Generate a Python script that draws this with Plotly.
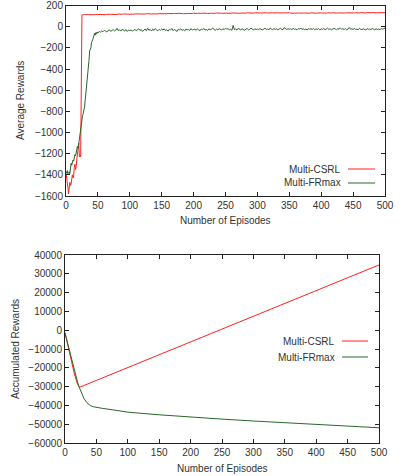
import plotly.graph_objects as go

# ---------------- data ----------------
# Average rewards, episodes 0..50 (every episode)
early_episodes = list(range(0, 51))
csrl_early = [-1380, -1420, -1450, -1520, -1580, -1540, -1470, -1500, -1490, -1440,
              -1400, -1430, -1410, -1330, -1300, -1350, -1320, -1250, -1200, -1150,
              -1100, -1230, -1220, -1230, 110, 112, 114, 111, 113, 115, 112, 114,
              113, 116, 112, 115, 113, 114, 116, 113, 115, 114, 112, 116, 114, 113,
              115, 117, 114, 116, 115]
frmax_early = [-1370, -1380, -1360, -1390, -1380, -1370, -1390, -1330, -1290, -1310,
               -1280, -1260, -1270, -1230, -1210, -1220, -1180, -1160, -1130, -1150,
               -1100, -1060, -1020, -980, -940, -880, -840, -820, -800, -760,
               -700, -640, -600, -540, -480, -400, -320, -230, -210, -200,
               -150, -140, -120, -100, -70, -60, -80, -55, -70, -50, -60]

# Average rewards, episodes 52..500 (every second episode)
late_episodes = list(range(52, 501, 2))
csrl_late = [
    114, 116, 113, 115, 117, 114, 116, 118, 115, 117, 116, 114, 118, 117, 115, 119, 116, 118, 117, 120, 116, 119, 118, 117, 120,
    119, 121, 118, 120, 122, 119, 121, 120, 118, 122, 121, 119, 123, 120, 122, 121, 119, 123, 122, 120, 124, 121, 123, 122, 121,
    123, 121, 124, 122, 125, 123, 121, 124, 123, 125, 122, 124, 126, 123, 125, 124, 122, 126, 124, 125, 123, 126, 125, 124, 127,
    124, 126, 125, 127, 124, 126, 128, 125, 127, 126, 124, 128, 126, 127, 125, 128, 126, 129, 127, 125, 128, 127, 126, 129, 127,
    128, 126, 129, 127, 128, 130, 127, 129, 128, 126, 130, 128, 129, 127, 130, 128, 131, 129, 127, 130, 129, 128, 131, 129, 130,
    128, 130, 129, 131, 128, 130, 132, 129, 131, 130, 128, 131, 130, 132, 129, 131, 130, 128, 132, 130, 131, 129, 132, 130, 131,
    127, 129, 126, 128, 130, 127, 129, 128, 126, 130, 128, 129, 127, 130, 128, 127, 131, 129, 128, 130, 127, 129, 131, 128, 130,
    129, 127, 130, 128, 131, 129, 128, 130, 132, 129, 131, 128, 130, 129, 131, 127, 130, 132, 129, 131, 130, 128, 132, 130, 131,
    130, 132, 129, 131, 130, 133, 131, 129, 132, 130, 133, 131, 130, 132, 134, 131, 133, 130, 132, 131, 134, 132, 131, 133, 132]
frmax_late = [
    -45, -52, -40, -48, -35, -42, -50, -38, -30, -44, -36, -28, -40, -33, -15, -38, -30, -42, -25, -35, -40, -28, -45, -32, -38,
    -30, -42, -35, -25, -40, -32, -20, -36, -28, -45, -30, -22, -38, -15, -33, -27, -40, -24, -35, -18, -30, -38, -26, -34, -22,
    -32, -20, -36, -28, -42, -25, -30, -18, -38, -26, -33, -45, -24, -30, -20, -35, -28, -40, -22, -30, -26, -36, -18, -32, -27,
    -24, -34, -20, -30, -38, -22, -28, -16, -32, -26, -36, -20, -30, -24, -12, -28, -34, -22, -30, -18, -26, -32, -20, -28, -15,
    -22, -20, -30, -24, -34, 12, -28, -22, -32, -16, -26, -30, -20, -28, -35, -22, -18, -30, -26, -14, -24, -32, -20, -27, -23,
    -28, -18, -25, -32, -20, -15, -27, -22, -30, -12, -24, -28, -18, -26, -20, -30, -22, -16, -25, -28, -10, -22, -27, -19, -24,
    -20, -28, -16, -25, -22, -30, -18, -24, -12, -26, -20, -28, -22, -32, -18, -24, -20, -26, -15, -28, -22, -25, -18, -30, -21,
    -25, -18, -28, -22, -14, -26, -20, -30, -24, -16, -22, -28, -19, -25, -12, -24, -20, -27, -18, -30, -22, -8, -24, -20, -26,
    -18, -26, -22, -30, -15, -24, -28, -20, -25, -32, -18, -26, -22, -28, -16, -24, -30, -20, -26, -22, -28, -18, -24, -20, -12]

# Accumulated rewards (read at sample episodes)
acc_csrl_episodes = [0, 5, 10, 15, 20, 23, 50, 100, 150, 200, 250, 300, 350, 400, 450, 500]
acc_csrl = [-1400, -8900, -16200, -23300, -28700, -30400, -26700, -19900, -13100,
            -6300, 500, 7400, 14200, 21000, 27800, 34700]
acc_frmax_episodes = [0, 5, 10, 15, 20, 23, 26, 30, 35, 40, 45, 50, 60, 75, 100,
                      150, 200, 250, 300, 350, 400, 450, 500]
acc_frmax = [-1400, -8300, -15200, -21700, -27600, -30600, -33300, -36200, -38600,
             -40000, -40700, -41100, -41600, -42300, -43600, -45000, -46300, -47300,
             -48300, -49200, -50100, -51000, -51900]

series_names = ["Multi-CSRL", "Multi-FRmax"]
x_ticks = [0, 50, 100, 150, 200, 250, 300, 350, 400, 450, 500]
y1_ticks = [200, 0, -200, -400, -600, -800, -1000, -1200, -1400, -1600]
y2_ticks = [40000, 30000, 20000, 10000, 0, -10000, -20000, -30000, -40000, -50000, -60000]

# ---------------- figure ----------------
RED = "#ff2020"
GREEN = "#2a662a"
FONT = dict(family="Liberation Sans, Arial, sans-serif", size=10, color="#333333")
W, H = 401, 476

fig = go.Figure()
ep_all = early_episodes + late_episodes
fig.add_trace(go.Scatter(x=ep_all, y=csrl_early + csrl_late, mode="lines",
                         line=dict(color=RED, width=1), xaxis="x", yaxis="y",
                         showlegend=False))
fig.add_trace(go.Scatter(x=ep_all, y=frmax_early + frmax_late, mode="lines",
                         line=dict(color=GREEN, width=1), xaxis="x", yaxis="y",
                         showlegend=False))
fig.add_trace(go.Scatter(x=acc_csrl_episodes, y=acc_csrl, mode="lines",
                         line=dict(color=RED, width=1), xaxis="x2", yaxis="y2",
                         showlegend=False))
fig.add_trace(go.Scatter(x=acc_frmax_episodes, y=acc_frmax, mode="lines",
                         line=dict(color=GREEN, width=1), xaxis="x2", yaxis="y2",
                         showlegend=False))

def px_x(p):
    return p / W

def px_y(p):
    return 1 - p / H

axis_common = dict(showline=True, linecolor="#222222", linewidth=1, mirror="ticks",
                   ticks="inside", ticklen=4, tickcolor="#222222", tickwidth=1,
                   showgrid=False, zeroline=False, tickfont=FONT, automargin=False,
                   tickformat="d")

fig.update_layout(
    width=W, height=H, margin=dict(l=0, r=0, t=0, b=0, autoexpand=False),
    paper_bgcolor="white", plot_bgcolor="white", font=FONT, hovermode=False,
    xaxis=dict(domain=[px_x(66), px_x(385)], range=[0, 500], tickvals=x_ticks,
               anchor="y", **axis_common),
    yaxis=dict(domain=[px_y(196), px_y(5.5)], range=[-1600, 200], tickvals=y1_ticks,
               anchor="x", **axis_common),
    xaxis2=dict(domain=[px_x(65), px_x(379)], range=[0, 500], tickvals=x_ticks,
                anchor="y2", **axis_common),
    yaxis2=dict(domain=[px_y(443), px_y(255)], range=[-60000, 40000], tickvals=y2_ticks,
                anchor="x2", **axis_common),
)

annotations = [
    dict(text="Number of Episodes", x=px_x(225), y=px_y(220), xref="paper", yref="paper",
         showarrow=False, font=FONT, xanchor="center", yanchor="middle"),
    dict(text="Average Rewards", x=px_x(20), y=px_y(101), xref="paper", yref="paper",
         showarrow=False, font=FONT, textangle=-90, xanchor="center", yanchor="middle"),
    dict(text="Number of Episodes", x=px_x(222), y=px_y(468), xref="paper", yref="paper",
         showarrow=False, font=FONT, xanchor="center", yanchor="middle"),
    dict(text="Accumulated Rewards", x=px_x(15), y=px_y(349), xref="paper", yref="paper",
         showarrow=False, font=FONT, textangle=-90, xanchor="center", yanchor="middle"),
]
shapes = []
legend_spots = [  # (text right edge, line start, line end, y rows)
    (343, 348, 375, [169, 183]),
    (337, 342, 368, [341, 357]),
]
for tx, l0, l1, rows in legend_spots:
    for name, color, ry in zip(series_names, [RED, GREEN], rows):
        annotations.append(dict(text=name, x=px_x(tx), y=px_y(ry), xref="paper",
                                yref="paper", showarrow=False, font=FONT,
                                xanchor="right", yanchor="middle"))
        shapes.append(dict(type="line", xref="paper", yref="paper",
                           x0=px_x(l0), x1=px_x(l1), y0=px_y(ry), y1=px_y(ry),
                           line=dict(color=color, width=1)))

fig.update_layout(annotations=annotations, shapes=shapes)
fig.write_html("out.html", config={"displayModeBar": False},
               post_script="document.body.style.margin='0';document.body.style.padding='0';")
